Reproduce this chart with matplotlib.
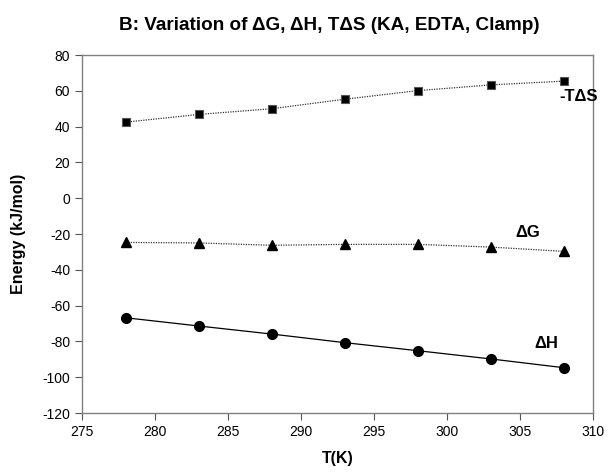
import matplotlib
matplotlib.use("Agg")
import matplotlib.pyplot as plt

plt.rcParams['font.family'] = ['Liberation Sans', 'DejaVu Sans']
plt.rcParams['axes.unicode_minus'] = False

temps = [278, 283, 288, 293, 298, 303, 308]
minus_TdS = [42.5, 46.8, 50.0, 55.3, 60.1, 63.3, 65.4]
dG = [-24.7, -25.0, -26.3, -25.8, -25.8, -27.3, -29.7]
dH = [-66.8, -71.4, -75.9, -80.7, -85.2, -89.8, -94.7]

series_labels = ["-T\u0394S", "\u0394G", "\u0394H"]
x_ticks = [275, 280, 285, 290, 295, 300, 305, 310]
y_ticks = [-120, -100, -80, -60, -40, -20, 0, 20, 40, 60, 80]

fig = plt.figure(figsize=(6.08, 4.72), dpi=100)
ax = fig.add_axes([82/608, 1-413/472, (593-82)/608, (413-55)/472])

ax.plot(temps, minus_TdS, color='#333333', linestyle=(0, (1, 1)), linewidth=0.9,
        marker='s', markersize=5.5, markerfacecolor='black', markeredgecolor='#555555', markeredgewidth=0.8)
ax.plot(temps, dG, color='#333333', linestyle=(0, (1, 1)), linewidth=0.9,
        marker='^', markersize=6.5, markerfacecolor='black', markeredgecolor='black')
ax.plot(temps, dH, color='black', linestyle='-', linewidth=0.9,
        marker='o', markersize=7, markerfacecolor='black', markeredgecolor='black')

ax.text(309.0, 57, series_labels[0], ha='center', va='center', fontsize=12, fontweight='bold')
ax.text(305.5, -19.4, series_labels[1], ha='center', va='center', fontsize=12, fontweight='bold')
ax.text(306.8, -81, series_labels[2], ha='center', va='center', fontsize=12, fontweight='bold')

ax.set_xlim(275, 310)
ax.set_ylim(-120, 80)
ax.set_xticks(x_ticks)
ax.set_yticks(y_ticks)
ax.tick_params(direction='out', length=5, width=0.8, color='#555555', labelsize=10)
for s in ax.spines.values():
    s.set_color('#808080')
    s.set_linewidth(1.0)

ax.set_xlabel('T(K)', fontsize=11.5, fontweight='bold', labelpad=9)
ax.set_ylabel('Energy (kJ/mol)', fontsize=11.5, fontweight='bold', labelpad=12)
fig.text(329/608, 1-25/472, 'B: Variation of \u0394G, \u0394H, T\u0394S (KA, EDTA, Clamp)',
         ha='center', va='center', fontsize=13.6, fontweight='bold')

fig.savefig('out.png', dpi=100)
